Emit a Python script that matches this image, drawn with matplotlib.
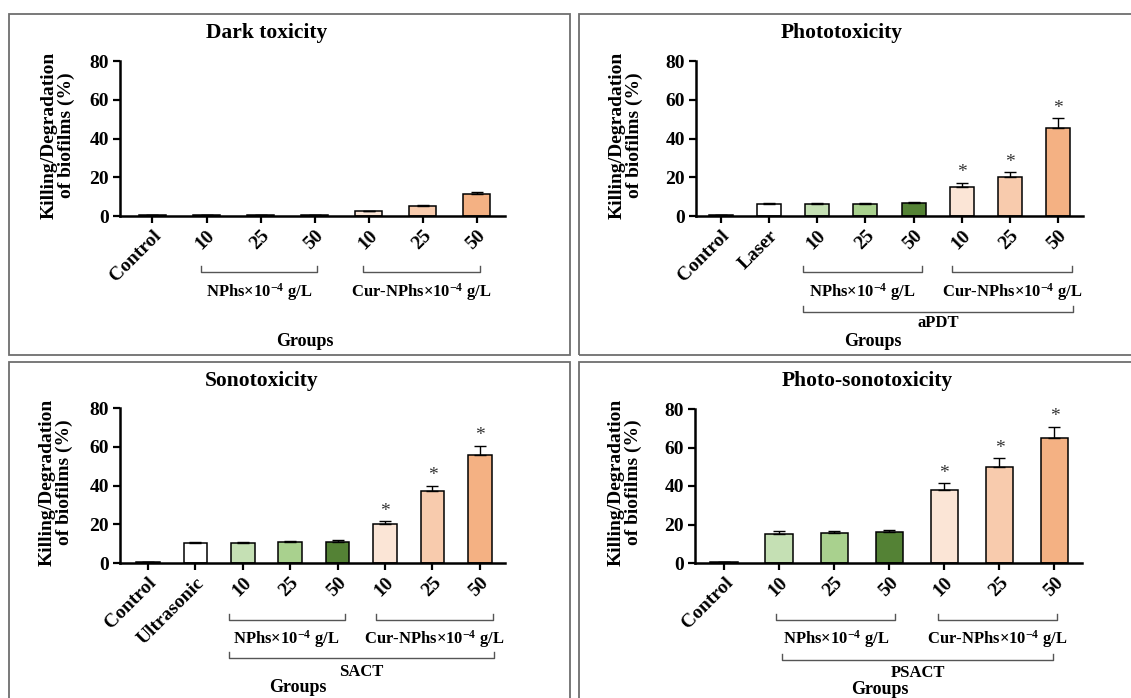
import matplotlib
matplotlib.use('Agg')
import matplotlib.pyplot as plt
import matplotlib.transforms as mtransforms
from matplotlib.patches import Rectangle
from matplotlib.lines import Line2D

plt.rcParams['font.family'] = ['Liberation Serif', 'DejaVu Serif']
plt.rcParams['font.weight'] = 'bold'
plt.rcParams['mathtext.default'] = 'regular'

W, H = 1131, 698

# Colours (Excel-like tints)
white = '#FFFFFF'
greens = ['#C5E0B4', '#A9D18E', '#548235']
oranges = ['#FBE5D6', '#F8CBAD', '#F4B183']

# Data
dark_labels = ['Control', '10', '25', '50', '10', '25', '50']
dark_vals = [0.3, 0.3, 0.3, 0.3, 2.4, 5.2, 11.2]
dark_err = [0, 0, 0, 0, 0.35, 0.6, 1.4]
dark_stars = []

photo_labels = ['Control', 'Laser', '10', '25', '50', '10', '25', '50']
photo_vals = [0.3, 6.2, 6.2, 6.4, 6.5, 15.1, 20.3, 45.3]
photo_err = [0, 0.5, 0.5, 0.5, 0.5, 2.0, 2.2, 5.3]
photo_stars = [5, 6, 7]

sono_labels = ['Control', 'Ultrasonic', '10', '25', '50', '10', '25', '50']
sono_vals = [0.3, 10.2, 10.2, 10.7, 11.0, 20.1, 37.0, 56.0]
sono_err = [0, 0.8, 0.8, 0.8, 0.8, 1.4, 3.0, 4.6]
sono_stars = [5, 6, 7]

psono_labels = ['Control', '10', '25', '50', '10', '25', '50']
psono_vals = [0.3, 15.0, 15.4, 16.1, 38.0, 50.1, 65.1]
psono_err = [0, 1.4, 1.2, 1.2, 3.5, 4.5, 5.7]
psono_stars = [4, 5, 6]

nphs_txt = r'NPhs×10$^{-4}$ g/L'
cur_txt = r'Cur-NPhs×10$^{-4}$ g/L'

fig = plt.figure(figsize=(W / 100, H / 100), dpi=100)


def fx(px):
    return px / W


def fy(py):
    return 1 - py / H


# Panel frames
for (x0, y0, x1, y1) in [(9, 14, 570, 355), (579, 14, 1140, 355),
                         (9, 362, 570, 710), (579, 362, 1140, 710)]:
    fig.add_artist(Rectangle((fx(x0), fy(y1)), fx(x1 - x0), (y1 - y0) / H,
                             transform=fig.transFigure, fill=False,
                             edgecolor='#6e6e6e', lw=1.3))


def bracket(ax, xa, xb, ypx, h=6):
    tr = mtransforms.blended_transform_factory(ax.transData, fig.transFigure)
    ln = Line2D([xa, xa, xb, xb], [fy(ypx - h), fy(ypx), fy(ypx), fy(ypx - h)],
                transform=tr, color='#555555', lw=1.0, clip_on=False)
    fig.add_artist(ln)


def panel(box, xlim, labels, vals, errs, colors, stars, title, title_xy,
          ylab_xy, groups_xy):
    x0, x1, ytop, ybot = box
    ax = fig.add_axes([fx(x0), fy(ybot), fx(x1 - x0), (ybot - ytop) / H])
    xs = list(range(len(vals)))
    ax.bar(xs, vals, width=0.5, color=colors, edgecolor='black', lw=1.1, zorder=2)
    ax.errorbar(xs, vals, yerr=[[0] * len(errs), errs], fmt='none',
                ecolor='black', elinewidth=1.0, capsize=4, capthick=1.0, zorder=3)
    for i in stars:
        ax.annotate('*', (xs[i], vals[i] + errs[i]), xytext=(0, 1),
                    textcoords='offset points', ha='center', va='bottom',
                    fontsize=14, fontweight='normal', color='#333333')
    ax.set_xlim(*xlim)
    ax.set_ylim(0, 80)
    ax.set_yticks([0, 20, 40, 60, 80])
    ax.set_xticks(xs)
    ax.set_xticklabels(labels, rotation=45, ha='right', rotation_mode='anchor',
                       fontsize=14, fontweight='bold')
    for t in ax.get_yticklabels():
        t.set_fontsize(14)
        t.set_fontweight('bold')
    for s in ['top', 'right']:
        ax.spines[s].set_visible(False)
    for s in ['left', 'bottom']:
        ax.spines[s].set_linewidth(1.8)
    ax.tick_params(axis='both', direction='out', length=5, width=1.6, pad=3)
    fig.text(fx(title_xy[0]), fy(title_xy[1]), title, ha='center', va='center',
             fontsize=15.5, fontweight='bold')
    fig.text(fx(ylab_xy[0]), fy(ylab_xy[1]), 'Killing/Degradation\nof biofilms (%)',
             ha='center', va='center', rotation=90, fontsize=14,
             fontweight='bold', linespacing=1.0)
    fig.text(fx(groups_xy[0]), fy(groups_xy[1]), 'Groups', ha='center',
             va='center', fontsize=13, fontweight='bold')
    return ax


def group_label(ax, xa, xb, ypx_line, ypx_text, text, size=12):
    bracket(ax, xa, xb, ypx_line)
    tr = mtransforms.blended_transform_factory(ax.transData, fig.transFigure)
    fig.text((xa + xb) / 2, fy(ypx_text), text, transform=tr, ha='center',
             va='center', fontsize=size, fontweight='bold')


# Dark toxicity
ax1 = panel((120, 505, 61, 216), (-0.6, 6.52), dark_labels, dark_vals, dark_err,
            [white] + greens + oranges, dark_stars, 'Dark toxicity', (267, 33),
            (58, 135), (305, 342))
group_label(ax1, 0.9, 3.05, 272, 292, nphs_txt)
group_label(ax1, 3.9, 6.05, 272, 292, cur_txt)

# Phototoxicity
ax2 = panel((696, 1083, 61, 216), (-0.52, 7.52), photo_labels, photo_vals, photo_err,
            [white, white] + greens + oranges, photo_stars, 'Phototoxicity', (842, 33),
            (626, 135), (873, 342))
group_label(ax2, 1.7, 4.17, 272, 292, nphs_txt)
group_label(ax2, 4.8, 7.29, 272, 292, cur_txt)
group_label(ax2, 1.7, 7.31, 312, 323, 'aPDT')

# Sonotoxicity
ax3 = panel((120, 505, 408, 563), (-0.59, 7.53), sono_labels, sono_vals, sono_err,
            [white, white] + greens + oranges, sono_stars, 'Sonotoxicity', (262, 381),
            (56, 482), (298, 688))
group_label(ax3, 1.7, 4.15, 620, 639, nphs_txt)
group_label(ax3, 4.81, 7.27, 620, 639, cur_txt)
group_label(ax3, 1.7, 7.29, 658, 672, 'SACT')

# Photo-sonotoxicity
ax4 = panel((695, 1082, 409, 563), (-0.53, 6.5), psono_labels, psono_vals, psono_err,
            [white] + greens + oranges, psono_stars, 'Photo-sonotoxicity', (867, 381),
            (625, 482), (880, 690))
group_label(ax4, 0.95, 3.11, 620, 639, nphs_txt)
group_label(ax4, 3.89, 6.04, 620, 639, cur_txt)
group_label(ax4, 1.05, 5.98, 660, 673, 'PSACT')

fig.savefig('out.png', dpi=100)
